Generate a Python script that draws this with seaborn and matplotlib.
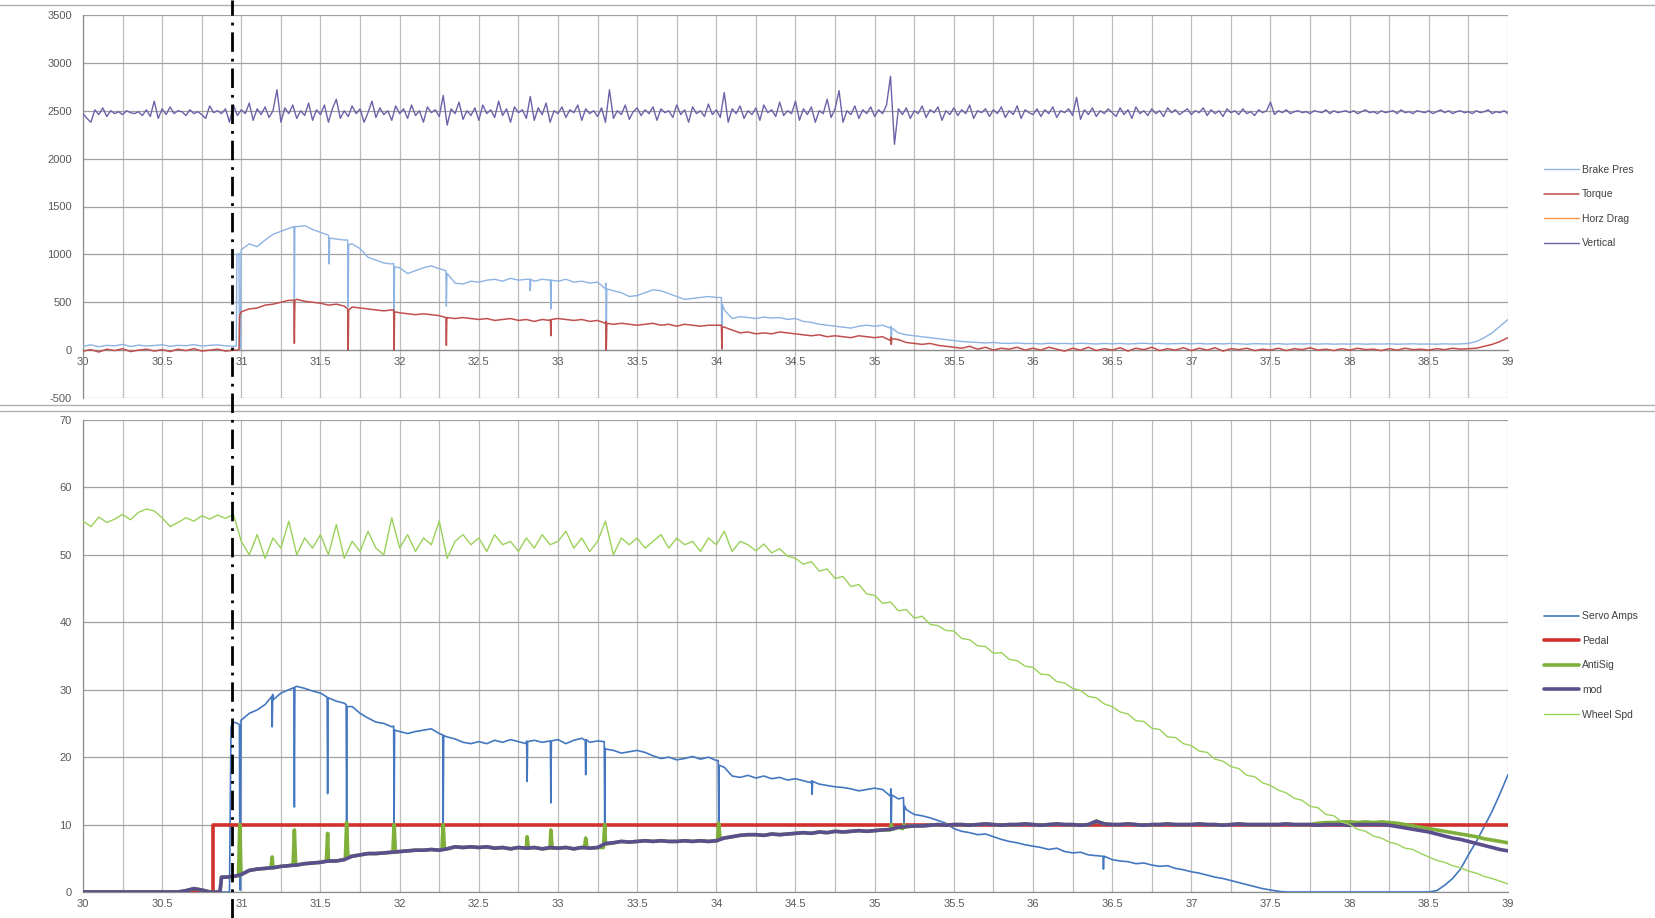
import numpy as np
import pandas as pd
import seaborn as sns
import matplotlib.pyplot as plt
import matplotlib.transforms as mtransforms
from matplotlib.lines import Line2D
from matplotlib.ticker import MultipleLocator, FormatStrFormatter

sns.set_style('white')
plt.rcParams['font.family'] = ['Liberation Sans', 'DejaVu Sans']
plt.rcParams['axes.unicode_minus'] = False

# time bases (s)
GRID_T = np.round(30 + 0.05 * np.arange(181), 3)
VERT_T = np.round(30 + 0.025 * np.arange(361), 3)
MARK_T = 30.94  # dash-dot event marker

# ---------------- top panel ----------------
VERTICAL = [
    2470, 2420, 2380, 2510, 2460, 2530, 2440, 2500, 2470, 2490,
    2460, 2500, 2480, 2470, 2490, 2450, 2510, 2440, 2600, 2420,
    2520, 2460, 2540, 2470, 2500, 2490, 2450, 2510, 2470, 2490,
    2460, 2420, 2550, 2480, 2500, 2470, 2520, 2380, 2560, 2450,
    2510, 2470, 2580, 2400, 2520, 2460, 2540, 2430, 2500, 2720,
    2380, 2530, 2470, 2560, 2420, 2500, 2450, 2580, 2400, 2510,
    2460, 2560, 2380, 2520, 2620, 2420, 2500, 2440, 2550, 2470,
    2520, 2380, 2480, 2600, 2430, 2530, 2460, 2500, 2400, 2550,
    2470, 2520, 2420, 2560, 2450, 2500, 2380, 2540, 2480, 2510,
    2440, 2660, 2350, 2520, 2470, 2590, 2410, 2500, 2450, 2530,
    2400, 2560, 2470, 2510, 2430, 2600, 2450, 2520, 2380, 2540,
    2480, 2510, 2420, 2650, 2400, 2530, 2460, 2580, 2380, 2500,
    2470, 2540, 2430, 2510, 2480, 2560, 2400, 2520, 2470, 2500,
    2440, 2530, 2380, 2720, 2420, 2500, 2460, 2560, 2410, 2490,
    2530, 2450, 2510, 2470, 2540, 2400, 2520, 2480, 2500, 2430,
    2560, 2460, 2510, 2380, 2540, 2470, 2500, 2440, 2570, 2460,
    2510, 2430, 2690, 2380, 2520, 2470, 2550, 2420, 2500, 2460,
    2530, 2400, 2560, 2480, 2510, 2440, 2590, 2450, 2500, 2470,
    2600, 2400, 2520, 2460, 2540, 2380, 2500, 2470, 2620, 2430,
    2520, 2710, 2380, 2500, 2460, 2550, 2420, 2510, 2470, 2540,
    2440, 2510, 2470, 2560, 2860, 2150, 2520, 2460, 2530, 2420,
    2500, 2470, 2550, 2430, 2510, 2480, 2540, 2400, 2500, 2460,
    2530, 2450, 2510, 2470, 2560, 2420, 2500, 2480, 2520, 2440,
    2510, 2470, 2540, 2430, 2500, 2460, 2550, 2420, 2510, 2480,
    2460, 2520, 2440, 2510, 2470, 2540, 2430, 2500, 2480, 2520,
    2450, 2640, 2410, 2510, 2460, 2530, 2440, 2500, 2470, 2520,
    2480, 2440, 2530, 2460, 2510, 2420, 2540, 2470, 2500, 2450,
    2520, 2470, 2500, 2440, 2530, 2480, 2510, 2460, 2490, 2520,
    2460, 2500, 2480, 2530, 2450, 2510, 2470, 2500, 2440, 2520,
    2480, 2500, 2460, 2520, 2470, 2490, 2450, 2510, 2480, 2500,
    2590, 2460, 2500, 2480, 2510, 2470, 2490, 2500, 2480, 2490,
    2470, 2500, 2490, 2480, 2510, 2470, 2500, 2480, 2490, 2500,
    2480, 2500, 2470, 2490, 2510, 2480, 2490, 2470, 2500, 2480,
    2490, 2500, 2470, 2510, 2480, 2490, 2470, 2500, 2490, 2480,
    2500, 2470, 2490, 2510, 2480, 2500, 2470, 2490, 2500, 2480,
    2490, 2470, 2500, 2480, 2490, 2510, 2470, 2490, 2480, 2500,
    2470,
]

BRAKE = [
    40, 55, 35, 50, 45, 60, 38, 52, 44, 48,
    56, 40, 50, 46, 58, 42, 50, 54, 45, 40,
    1050, 1110, 1080, 1150, 1210, 1240, 1270, 1290, 1300, 1260,
    1230, 1200, 1160, 1150, 1110, 1060, 970, 940, 910, 900,
    860, 800, 830, 860, 880, 850, 800, 700, 690, 720,
    710, 730, 740, 720, 750, 730, 740, 720, 740, 730,
    720, 740, 710, 720, 700, 710, 640, 620, 600, 560,
    570, 600, 630, 620, 590, 560, 530, 540, 550, 560,
    550, 420, 330, 350, 340, 330, 345, 335, 340, 320,
    330, 300, 290, 270, 260, 250, 240, 230, 250, 260,
    250, 260, 230, 180, 160, 150, 140, 130, 120, 110,
    100, 90, 85, 80, 75, 80, 72, 70, 75, 68,
    70, 65, 72, 68, 70, 66, 72, 68, 64, 70,
    66, 70, 64, 68, 72, 66, 70, 65, 68, 70,
    66, 70, 64, 68, 65, 70, 66, 62, 68, 65,
    64, 68, 62, 66, 64, 67, 63, 66, 62, 65,
    63, 66, 62, 65, 63, 66, 62, 64, 66, 63,
    64, 62, 66, 63, 65, 70, 90, 130, 180, 250,
    320,
]
BRAKE_XT = [30.968, 30.972, 30.985, 30.988, 30.995, 30.998,
            31.332, 31.335, 31.338, 31.552, 31.555, 31.558,
            31.672, 31.675, 31.678, 31.962, 31.965, 31.968,
            32.292, 32.295, 32.298, 32.822, 32.825, 32.828,
            32.952, 32.955, 32.958, 33.302, 33.305, 33.308,
            34.032, 34.035, 34.038, 35.102, 35.105, 35.108]
BRAKE_XV = [45, 1000, 1010, 15, 15, 1020,
            1290, 420, 1290, 1180, 900, 1170,
            1150, 450, 1100, 905, 380, 870,
            830, 460, 760, 740, 620, 740,
            735, 430, 730, 700, 30, 640,
            550, 10, 480, 250, 60, 230]

TORQUE = [
    -10, 5, -20, 10, -5, 15, -15, 0, 10, -10,
    5, -15, 10, -5, 15, -10, 0, 10, -10, 0,
    400, 430, 440, 470, 480, 500, 520, 530, 510, 500,
    490, 470, 480, 460, 450, 440, 430, 420, 410, 420,
    390, 380, 370, 380, 370, 360, 340, 330, 340, 330,
    320, 330, 310, 320, 330, 310, 320, 300, 320, 310,
    330, 320, 310, 320, 300, 310, 280, 270, 280, 270,
    260, 270, 280, 260, 270, 250, 270, 260, 250, 260,
    260, 240, 210, 180, 190, 170, 180, 170, 190, 180,
    170, 160, 150, 160, 140, 150, 140, 130, 150, 140,
    130, 140, 100, 110, 80, 70, 60, 70, 50, 40,
    30, 20, 40, 10, 30, 0, 20, 10, 30, 0,
    20, 0, 30, 10, -10, 20, 0, 30, -5, 15,
    0, 25, -10, 20, 5, 30, -5, 15, 0, 25,
    -5, 20, 0, 25, -10, 15, 5, 20, -5, 10,
    0, 20, -5, 15, 5, 25, 0, 10, -5, 15,
    0, 20, 5, 10, -5, 15, 0, 20, 5, 10,
    0, 15, 5, 20, 10, 15, 20, 40, 60, 90,
    130,
]
TORQUE_XT = [30.975, 30.985, 30.99, 30.995,
             31.332, 31.335, 31.338, 31.672, 31.675, 31.678,
             31.962, 31.965, 31.968, 32.292, 32.295, 32.298,
             32.952, 32.955, 32.958, 33.302, 33.305, 33.308,
             34.032, 34.035, 34.038, 35.102, 35.105, 35.108]
TORQUE_XV = [0, 5, 370, 380,
             520, 70, 520, 430, 0, 420,
             420, 0, 400, 340, 50, 340,
             320, 150, 320, 300, 0, 280,
             260, 15, 240, 135, 60, 120]

# ---------------- bottom panel ----------------
SERVO = [
    0, 0, 0, 0, 0, 0, 0, 0, 0, 0,
    0, 0, 0, 0, 0, 0, 0, 0, 0, 25.2,
    25.5, 26.5, 27.0, 27.8, 28.5, 29.5, 30.0, 30.5, 30.2, 29.8,
    29.5, 28.8, 28.3, 28.0, 27.5, 26.5, 25.8, 25.2, 25.0, 24.5,
    23.8, 23.5, 23.8, 24.0, 24.2, 23.5, 23.0, 22.7, 22.2, 22.0,
    22.3, 22.0, 22.5, 22.2, 22.6, 22.3, 22.0, 22.5, 22.2, 22.4,
    22.6, 22.0, 22.5, 22.8, 22.2, 22.4, 21.2, 21.0, 20.6, 20.8,
    21.0, 20.7, 20.2, 19.8, 20.0, 19.6, 19.8, 20.1, 19.7, 20.0,
    19.5, 18.5, 17.2, 17.0, 17.3, 16.9, 17.2, 16.8, 17.0, 16.6,
    16.8, 16.5, 16.2, 16.0, 15.8, 15.6, 15.5, 15.3, 15.0, 15.2,
    15.4, 15.2, 14.2, 13.8, 12.2, 11.5, 11.3, 11.0, 10.6, 10.2,
    9.4, 9.0, 8.8, 8.5, 8.6, 8.2, 7.8, 7.5, 7.3, 7.0,
    6.8, 6.6, 6.3, 6.5, 6.0, 5.8, 5.9, 5.5, 5.4, 5.3,
    4.8, 4.6, 4.5, 4.2, 4.3, 4.0, 3.8, 3.9, 3.5, 3.3,
    3.0, 2.8, 2.5, 2.2, 2.0, 1.7, 1.4, 1.1, 0.8, 0.5,
    0.3, 0.1, 0, 0, 0, 0, 0, 0, 0, 0,
    0, 0, 0, 0, 0, 0, 0, 0, 0, 0,
    0, 0.2, 1.0, 2.0, 3.4, 5.5, 7.5, 9.7, 12.0, 14.6,
    17.4,
]
SERVO_XT = [30.925, 30.935, 30.975, 30.988, 30.991, 30.995, 30.998,
            31.192, 31.195, 31.198, 31.332, 31.335, 31.338,
            31.542, 31.545, 31.548, 31.662, 31.665, 31.668,
            31.962, 31.965, 31.968, 32.272, 32.275, 32.278,
            32.802, 32.805, 32.808, 32.952, 32.955, 32.958,
            33.172, 33.175, 33.178, 33.292, 33.295, 33.298,
            34.012, 34.015, 34.018, 34.602, 34.605, 34.608,
            35.102, 35.105, 35.108, 35.182, 35.185, 35.188,
            36.442, 36.445, 36.448]
SERVO_XV = [0, 24.5, 25.0, 24.8, 0.3, 0.3, 25.5,
            29.0, 24.5, 29.3, 30.3, 12.6, 30.4,
            28.9, 14.6, 28.7, 27.8, 10.0, 27.5,
            24.6, 10.0, 24.0, 23.3, 10.0, 23.2,
            22.4, 16.4, 22.3, 22.3, 13.2, 22.4,
            22.5, 17.4, 22.6, 22.3, 10.0, 21.3,
            19.5, 10.0, 18.8, 16.5, 14.5, 16.4,
            15.3, 10.0, 14.4, 14.0, 10.0, 12.8,
            5.3, 3.4, 5.2]

PEDAL_T = [30.0, 30.82, 30.82, 39.0]
PEDAL_V = [0, 0, 10, 10]

MOD = [
    0, 0, 0, 0, 0, 0, 0, 0, 0, 0,
    0, 0, 0, 0.2, 0.5, 0.3, 0, 0, 2.2, 2.3,
    2.6, 3.2, 3.4, 3.5, 3.6, 3.8, 3.9, 4.0, 4.2, 4.3,
    4.4, 4.6, 4.6, 4.8, 5.3, 5.5, 5.7, 5.7, 5.8, 5.9,
    6.0, 6.1, 6.2, 6.2, 6.3, 6.2, 6.4, 6.7, 6.6, 6.7,
    6.6, 6.7, 6.5, 6.6, 6.4, 6.6, 6.5, 6.6, 6.4, 6.6,
    6.5, 6.6, 6.4, 6.6, 6.5, 6.6, 7.2, 7.3, 7.5, 7.4,
    7.5, 7.6, 7.5, 7.6, 7.5, 7.5, 7.6, 7.5, 7.6, 7.5,
    7.6, 8.0, 8.2, 8.4, 8.5, 8.5, 8.4, 8.6, 8.5, 8.6,
    8.7, 8.8, 8.7, 8.9, 8.8, 9.0, 8.9, 9.0, 9.1, 9.0,
    9.1, 9.2, 9.3, 9.6, 9.7, 9.8, 9.8, 9.9, 10.0, 9.9,
    10.0, 10.0, 9.9, 10.0, 10.1, 10.0, 9.9, 10.0, 10.0, 10.1,
    10.0, 9.9, 10.0, 10.1, 10.0, 10.0, 9.9, 10.0, 10.5, 10.1,
    10.0, 10.0, 10.1, 10.0, 9.9, 10.0, 10.0, 10.1, 10.0, 10.0,
    10.0, 10.1, 10.0, 10.0, 9.9, 10.0, 10.1, 10.0, 10.0, 10.0,
    10.0, 10.0, 10.1, 10.0, 10.0, 10.0, 9.9, 10.0, 10.0, 10.0,
    9.9, 10.0, 10.0, 10.0, 10.0, 9.9, 9.7, 9.5, 9.3, 9.1,
    8.9, 8.6, 8.3, 8.0, 7.8, 7.5, 7.2, 6.9, 6.6, 6.3,
    6.1,
]
MOD_XT = [30.865, 30.875]
MOD_XV = [0.0, 2.2]

ANTISIG = [
    0, 0, 0, 0, 0, 0, 0, 0, 0, 0,
    0, 0, 0, 0.2, 0.5, 0.3, 0, 0, 2.2, 2.3,
    2.6, 3.2, 3.4, 3.5, 3.6, 3.8, 3.9, 4.0, 4.2, 4.3,
    4.4, 4.6, 4.6, 4.8, 5.3, 5.5, 5.7, 5.7, 5.8, 5.9,
    6.0, 6.1, 6.2, 6.2, 6.3, 6.2, 6.4, 6.7, 6.6, 6.7,
    6.6, 6.7, 6.5, 6.6, 6.4, 6.6, 6.5, 6.6, 6.4, 6.6,
    6.5, 6.6, 6.4, 6.6, 6.5, 6.6, 7.2, 7.3, 7.5, 7.4,
    7.5, 7.6, 7.5, 7.6, 7.5, 7.5, 7.6, 7.5, 7.6, 7.5,
    7.6, 8.0, 8.2, 8.4, 8.5, 8.5, 8.4, 8.6, 8.5, 8.6,
    8.7, 8.8, 8.7, 8.9, 8.8, 9.0, 8.9, 9.0, 9.1, 9.0,
    9.1, 9.2, 9.3, 9.6, 9.7, 9.8, 9.8, 9.9, 10.0, 9.9,
    10.0, 10.0, 9.9, 10.0, 10.1, 10.0, 9.9, 10.0, 10.0, 10.1,
    10.0, 9.9, 10.0, 10.1, 10.0, 10.0, 9.9, 10.0, 10.5, 10.1,
    10.0, 10.0, 10.1, 10.0, 9.9, 10.0, 10.0, 10.1, 10.0, 10.0,
    10.0, 10.1, 10.0, 10.0, 9.9, 10.0, 10.1, 10.0, 10.0, 10.0,
    10.0, 10.0, 10.1, 10.0, 10.0, 10.0, 10.2, 10.3, 10.3, 10.4,
    10.4, 10.3, 10.4, 10.3, 10.4, 10.3, 10.2, 10.0, 9.8, 9.6,
    9.4, 9.2, 9.0, 8.8, 8.6, 8.4, 8.2, 7.9, 7.7, 7.5,
    7.3,
]
ANTISIG_XT = [30.865, 30.875, 30.982, 30.99, 30.998,
              31.187, 31.195, 31.203, 31.327, 31.335, 31.343,
              31.537, 31.545, 31.553, 31.657, 31.665, 31.673,
              31.957, 31.965, 31.973, 32.267, 32.275, 32.283,
              32.797, 32.805, 32.813, 32.947, 32.955, 32.963,
              33.167, 33.175, 33.183, 33.287, 33.295, 33.303,
              34.007, 34.015, 34.023, 35.097, 35.105, 35.113,
              35.177, 35.185, 35.193]
ANTISIG_XV = [0.0, 2.2, 2.4, 10.0, 2.5,
              3.6, 5.2, 3.6, 4.1, 9.2, 4.1,
              4.6, 8.7, 4.6, 5.0, 10.3, 5.3,
              5.9, 10.0, 5.9, 6.3, 10.0, 6.4,
              6.5, 8.2, 6.5, 6.5, 9.2, 6.5,
              6.6, 8.0, 6.6, 6.6, 10.0, 7.1,
              7.6, 10.2, 7.9, 9.2, 10.0, 9.3,
              9.4, 10.0, 9.6]

WHEEL = [
    55.0, 54.2, 55.6, 54.8, 55.3, 56.0, 55.2, 56.3, 56.8, 56.5,
    55.5, 54.2, 54.8, 55.5, 55.0, 55.8, 55.3, 55.9, 55.4, 56.0,
    52.0, 50.0, 53.0, 49.5, 52.5, 51.0, 55.0, 50.0, 52.5, 51.0,
    53.0, 50.0, 54.5, 49.5, 52.0, 50.5, 53.5, 51.0, 50.0, 55.5,
    51.0, 53.0, 50.5, 52.5, 51.5, 55.0, 49.5, 52.0, 53.0, 51.5,
    52.5, 50.5, 53.0, 51.5, 52.0, 50.5, 52.5, 51.0, 53.0, 51.5,
    52.0, 53.5, 51.0, 52.5, 50.5, 52.0, 55.0, 50.0, 52.5, 51.5,
    52.5, 51.0, 52.0, 53.0, 51.0, 52.5, 51.5, 52.0, 50.5, 52.5,
    51.5, 53.5, 50.5, 52.0, 51.5, 50.6, 51.6, 50.3, 50.9, 49.8,
    49.5, 48.6, 49.0, 47.6, 47.9, 46.5, 46.8, 45.3, 45.6, 44.2,
    44.0, 42.8, 43.0, 41.7, 41.9, 40.6, 40.9, 39.7, 39.5, 38.8,
    38.7, 37.6, 37.4, 36.5, 36.4, 35.4, 35.5, 34.5, 34.3, 33.5,
    33.3, 32.3, 32.2, 31.2, 31.0, 30.2, 29.9, 29.0, 28.8, 27.9,
    27.5, 26.7, 26.4, 25.4, 25.3, 24.3, 24.1, 23.0, 22.9, 22.0,
    21.7, 20.9, 20.7, 19.7, 19.4, 18.6, 18.3, 17.3, 17.1, 16.2,
    15.8, 15.1, 14.7, 13.9, 13.6, 12.7, 12.5, 11.5, 11.3, 10.4,
    10.0, 9.3, 9.0, 8.3, 8.0, 7.4, 7.1, 6.5, 6.3, 5.7,
    5.2, 4.7, 4.4, 3.9, 3.6, 3.1, 2.8, 2.3, 2.0, 1.6,
    1.2,
]


def series(t, v, xt=(), xv=()):
    t = np.concatenate([np.asarray(t, float), np.asarray(xt, float)])
    v = np.concatenate([np.asarray(v, float), np.asarray(xv, float)])
    order = np.argsort(t, kind='mergesort')
    return pd.DataFrame({'t': t[order], 'v': v[order]})


def draw(ax, df, color, lw, label, z):
    sns.lineplot(data=df, x='t', y='v', color=color, linewidth=lw, label=label,
                 ax=ax, sort=False, estimator=None, zorder=z)


fig = plt.figure(figsize=(16.56, 9.18), dpi=100)
ax1 = fig.add_axes([83 / 1656, 1 - 398 / 918, 1425 / 1656, 383 / 918])
ax2 = fig.add_axes([83 / 1656, 1 - 892 / 918, 1425 / 1656, 472 / 918])

# top panel
draw(ax1, series(GRID_T, BRAKE, BRAKE_XT, BRAKE_XV), '#8db3e2', 1.0, 'Brake Pres', 3)
draw(ax1, series(GRID_T, TORQUE, TORQUE_XT, TORQUE_XV), '#c0504d', 1.1, 'Torque', 4)
ax1.plot([], [], color='#f79646', lw=1.0, label='Horz Drag')  # no visible data
draw(ax1, series(VERT_T, VERTICAL), '#7060a8', 1.0, 'Vertical', 5)

# bottom panel
draw(ax2, series(GRID_T, SERVO, SERVO_XT, SERVO_XV), '#4477c0', 1.2, 'Servo Amps', 3)
draw(ax2, series(PEDAL_T, PEDAL_V), '#d0312d', 2.6, 'Pedal', 4)
draw(ax2, series(GRID_T, ANTISIG, ANTISIG_XT, ANTISIG_XV), '#7fb03a', 2.6, 'AntiSig', 5)
draw(ax2, series(GRID_T, MOD, MOD_XT, MOD_XV), '#5a4e8c', 2.6, 'mod', 6)
draw(ax2, series(GRID_T, WHEEL), '#9bd15a', 1.0, 'Wheel Spd', 7)


def style(ax, lo, hi, step):
    ax.set_xlim(30, 39)
    ax.set_ylim(lo, hi)
    ax.xaxis.set_major_locator(MultipleLocator(0.5))
    ax.xaxis.set_minor_locator(MultipleLocator(0.25))
    ax.yaxis.set_major_locator(MultipleLocator(step))
    ax.xaxis.set_major_formatter(FormatStrFormatter('%g'))
    ax.grid(which='both', axis='x', color='#bdbdbd', lw=0.9)
    ax.grid(which='major', axis='y', color='#a0a0a0', lw=0.9)
    ax.set_axisbelow(True)
    for s in ['top', 'right']:
        ax.spines[s].set_visible(False)
    for s in ['left', 'bottom']:
        ax.spines[s].set_color('#8c8c8c')
        ax.spines[s].set_linewidth(0.9)
    ax.tick_params(which='both', length=0, labelsize=8, labelcolor='#595959')
    ax.tick_params(axis='y', pad=8)
    ax.tick_params(axis='x', pad=5)
    ax.set_xlabel('')
    ax.set_ylabel('')


style(ax1, -500, 3500, 500)
style(ax2, 0, 70, 10)
ax1.spines['bottom'].set_position(('data', 0))

leg_kw = dict(loc='center left', frameon=False, fontsize=7.5, labelcolor='#404040',
              handlelength=3.4, handletextpad=0.3, labelspacing=1.4, borderaxespad=0)
ax1.legend(bbox_to_anchor=(1.022, 0.5), **leg_kw)
ax2.legend(bbox_to_anchor=(1.022, 0.48), **leg_kw)

# chart frame separators
for yy in [5, 405, 411]:
    fig.add_artist(Line2D([0, 1], [1 - yy / 918] * 2, transform=fig.transFigure,
                          color='#b0b0b0', lw=1.0))

# dash-dot event marker across both panels
trans = mtransforms.blended_transform_factory(ax2.transData, fig.transFigure)
fig.add_artist(Line2D([MARK_T, MARK_T], [0, 1], transform=trans, color='black',
                      lw=2.0, dashes=(7, 2.5, 1, 2.5), zorder=10))

fig.savefig('out.png', dpi=100, facecolor='white')
